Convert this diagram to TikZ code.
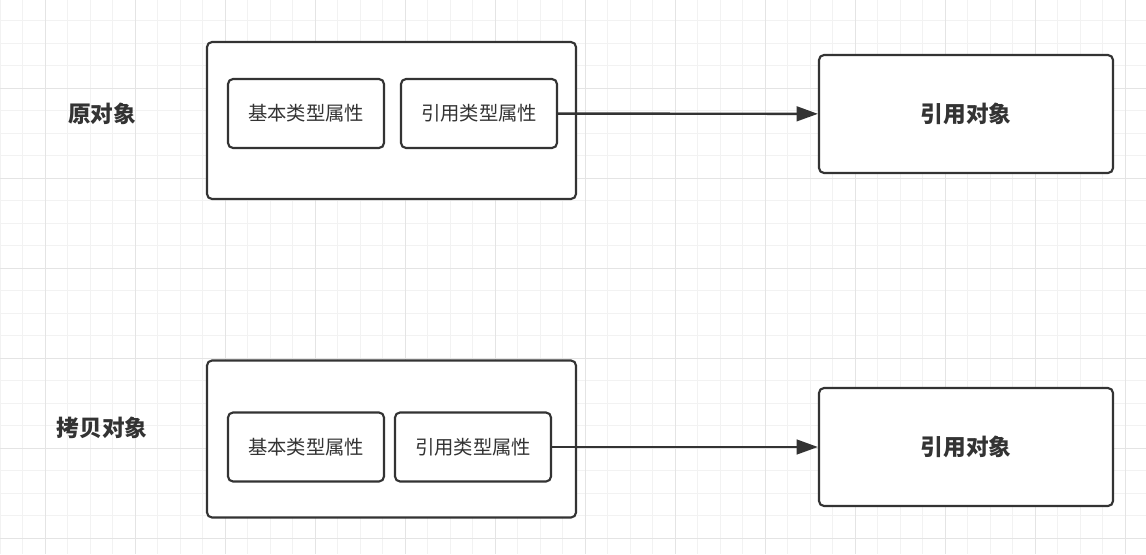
\documentclass[tikz,border=0pt]{standalone}
\usepackage{fontspec}
\setmainfont{Noto Sans CJK SC}
\usetikzlibrary{arrows.meta}
\definecolor{inkgray}{HTML}{333333}
\definecolor{gridminor}{HTML}{F2F2F2}
\definecolor{gridmajor}{HTML}{E4E4E4}
\tikzset{
  box/.style={draw=inkgray, line width=1.6pt, rounded corners=3.75pt, fill=white, inner sep=0pt},
  attr/.style={box, minimum width=117pt, minimum height=51.75pt, font=\fontsize{14.5}{16}\selectfont, text=inkgray},
  holder/.style={box, minimum width=276.75pt, minimum height=117.75pt},
  target/.style={box, minimum width=220.5pt, minimum height=88.5pt, font=\fontsize{17}{19}\selectfont\bfseries, text=inkgray},
  caption/.style={font=\fontsize{17}{19}\selectfont\bfseries, text=inkgray},
  ref/.style={draw=inkgray, line width=1.8pt, -{Triangle[length=16pt, width=11pt]}},
}
\begin{document}
\begin{tikzpicture}[x=0.75pt, y=-0.75pt]
  \fill[white] (0,0) rectangle (1146,554);
  \useasboundingbox (0,0) rectangle (1146,554);
  % grid
  \foreach \gx in {0,22.5,...,1146} \draw[gridminor, line width=0.75pt] (\gx,0) -- (\gx,554);
  \foreach \gy in {20.5,43,...,554} \draw[gridminor, line width=0.75pt] (0,\gy) -- (1146,\gy);
  \foreach \gx in {45,135,...,1146} \draw[gridmajor, line width=0.75pt] (\gx,0) -- (\gx,554);
  \foreach \gy in {88,178,...,554} \draw[gridmajor, line width=0.75pt] (0,\gy) -- (1146,\gy);

  % original object
  \node[caption] (origlabel) at (102,114) {原对象};
  \node[holder] (orig) at (391.5,120.5) {};
  \node[attr] (origbasic) at (306,113.5) {基本类型属性};
  \node[attr] (origref) at (479,113.5) {引用类型属性};
  \node[target] (origtarget) at (966,114) {引用对象};
  \draw[ref] (origref) -- (origtarget);

  % copied object
  \node[caption] (copylabel) at (102,428) {拷贝对象};
  \node[holder] (copy) at (391.5,439) {};
  \node[attr] (copybasic) at (306,447) {基本类型属性};
  \node[attr] (copyref) at (473,447) {引用类型属性};
  \node[target] (copytarget) at (966,447) {引用对象};
  \draw[ref] (copyref) -- (copytarget);
\end{tikzpicture}
\end{document}
